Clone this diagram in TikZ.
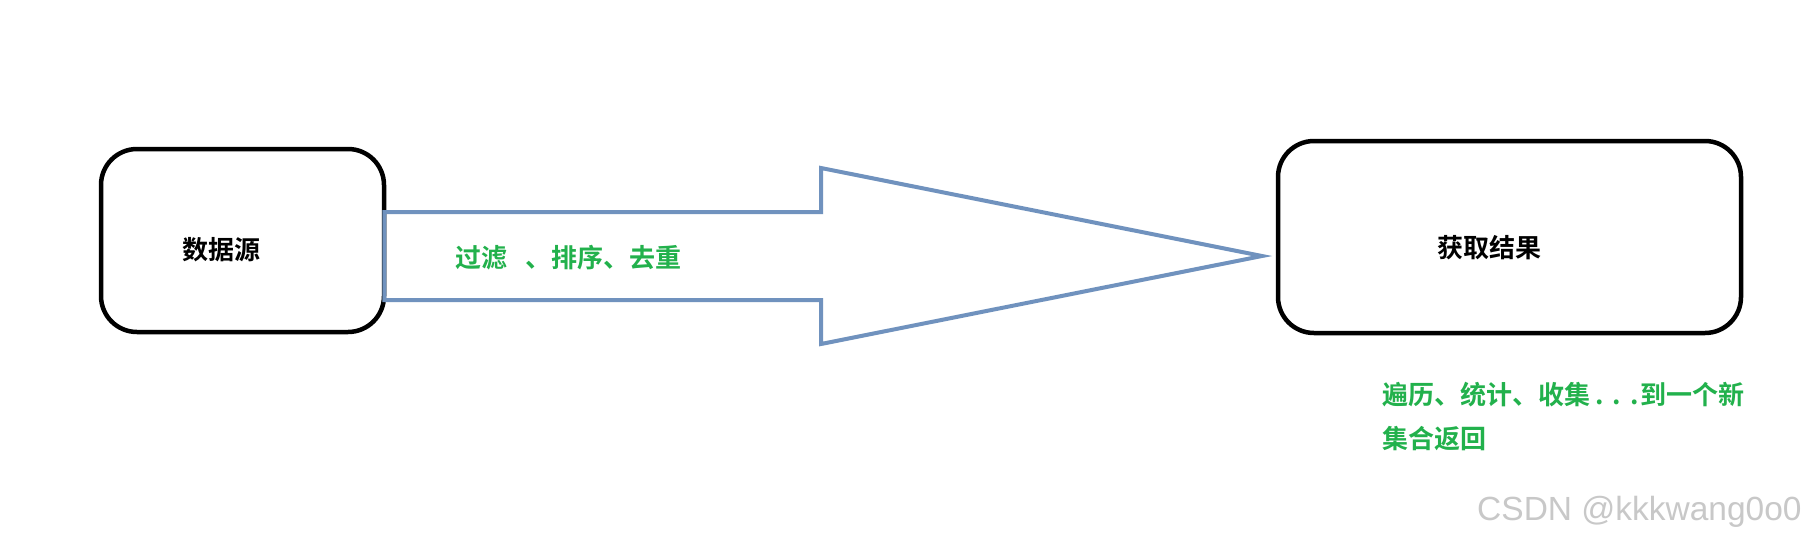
\documentclass[tikz,border=0pt]{standalone}
\usepackage{fontspec}
\newfontfamily\cjk{Noto Sans CJK SC}[BoldFont={Noto Sans CJK SC Bold}]
\setsansfont{Liberation Sans}
\definecolor{arrowblue}{RGB}{112,146,190}
\definecolor{textgreen}{RGB}{34,177,76}
\definecolor{wmgray}{RGB}{200,200,200}
\begin{document}
\begin{tikzpicture}[x=1pt,y=-1pt,
  roundbox/.style={draw=black, line width=4.5pt, rounded corners=36pt, inner sep=0pt},
  bigarrow/.style={draw=arrowblue, line width=4pt, line join=miter},
  boxtext/.style={font=\cjk\bfseries\fontsize{26}{30}\selectfont, text=black, inner sep=0pt},
  greentext/.style={font=\cjk\bfseries\fontsize{26}{44}\selectfont, text=textgreen, inner sep=0pt, align=left},
  wmtext/.style={font=\sffamily\fontsize{33.5}{36}\selectfont, text=wmgray, inner sep=0pt}
]
\useasboundingbox (0,0) rectangle (1806,544);
\fill[white] (0,0) rectangle (1806,544);

% boxes
\node[roundbox, minimum width=283pt, minimum height=183pt] (src) at (242.5,240.5) {};
\node[roundbox, minimum width=463pt, minimum height=192pt] (dst) at (1509.5,237) {};

% box labels
\node[boxtext] (srclabel) at (221,250) {数据源};
\node[boxtext] (dstlabel) at (1489,248) {获取结果};

% big arrow from src to dst
\coordinate (tip) at (1262,256);
\draw[bigarrow] ([xshift=-2pt]src.east |- 0,212) -- (821,212) -- (821,168) -- (tip)
  -- (821,344) -- (821,300) -- ([xshift=-2pt]src.east |- 0,300) -- cycle;

% labels
\node[greentext, anchor=west] (oplabel) at (455,258) {过滤\hspace{18pt}、排序、去重};
\node[greentext, anchor=north west] (resultlabel) at (1382,382)
  {遍历、统计、收集\hspace{5pt}.\hspace{9pt}.\hspace{9pt}.\hspace{2pt}到一个新\\集合返回};

% watermark
\node[wmtext, anchor=west] (wm) at (1477,512) {CSDN @kkkwang0o0};
\end{tikzpicture}
\end{document}
